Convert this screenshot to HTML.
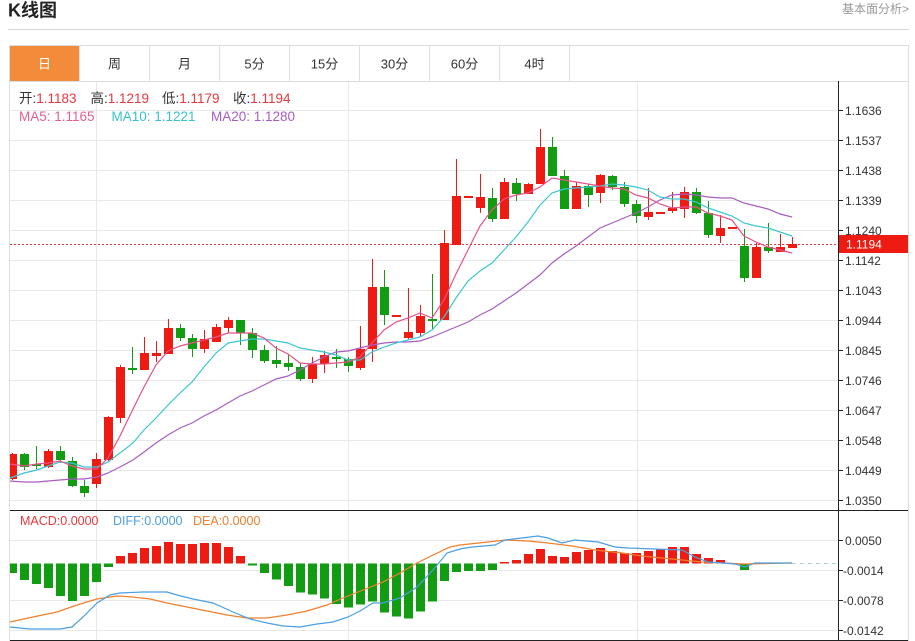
<!DOCTYPE html>
<html><head><meta charset="utf-8"><style>
html,body{margin:0;padding:0;background:#fff;}
body{width:915px;height:641px;overflow:hidden;font-family:"Liberation Sans","Noto Sans CJK SC",sans-serif;}
svg{display:block;}
</style></head><body>
<svg width="915" height="641" viewBox="0 0 915 641" xmlns="http://www.w3.org/2000/svg" font-family="Liberation Sans, Noto Sans CJK SC, sans-serif">
<rect width="915" height="641" fill="#fff"/>
<!-- header -->
<text x="8" y="16.5" font-size="18" font-weight="bold" fill="#222">K线图</text>
<text x="909" y="13" font-size="12" fill="#999" text-anchor="end">基本面分析&gt;</text>
<line x1="8" y1="29.5" x2="909" y2="29.5" stroke="#d4d4d4"/>
<!-- tabs -->
<rect x="9.5" y="45.5" width="899" height="36" fill="#fff" stroke="#dedede"/>
<rect x="10" y="46" width="69.5" height="35" fill="#f28b3a"/>
<g stroke="#dedede">
<line x1="79.5" y1="46" x2="79.5" y2="81"/><line x1="149.5" y1="46" x2="149.5" y2="81"/><line x1="219.5" y1="46" x2="219.5" y2="81"/><line x1="289.5" y1="46" x2="289.5" y2="81"/><line x1="359.5" y1="46" x2="359.5" y2="81"/><line x1="429.5" y1="46" x2="429.5" y2="81"/><line x1="499.5" y1="46" x2="499.5" y2="81"/><line x1="569.5" y1="46" x2="569.5" y2="81"/>
</g>
<g font-size="13" text-anchor="middle" fill="#333">
<text x="44.5" y="68.5" fill="#fff">日</text><text x="114.5" y="68.5">周</text><text x="184.5" y="68.5">月</text><text x="254.5" y="68.5">5分</text><text x="324.5" y="68.5">15分</text><text x="394.5" y="68.5">30分</text><text x="464.5" y="68.5">60分</text><text x="534.5" y="68.5">4时</text>
</g>
<!-- chart frame -->
<line x1="9.5" y1="81" x2="9.5" y2="641" stroke="#dedede"/>
<line x1="908.5" y1="81" x2="908.5" y2="641" stroke="#dedede"/>
<!-- grid -->
<g stroke="#e8e8e8" stroke-width="1">
<line x1="10" y1="110.5" x2="838" y2="110.5"/><line x1="10" y1="140.5" x2="838" y2="140.5"/><line x1="10" y1="170.5" x2="838" y2="170.5"/><line x1="10" y1="200.5" x2="838" y2="200.5"/><line x1="10" y1="230.5" x2="838" y2="230.5"/><line x1="10" y1="260.5" x2="838" y2="260.5"/><line x1="10" y1="290.5" x2="838" y2="290.5"/><line x1="10" y1="320.5" x2="838" y2="320.5"/><line x1="10" y1="350.5" x2="838" y2="350.5"/><line x1="10" y1="380.5" x2="838" y2="380.5"/><line x1="10" y1="410.5" x2="838" y2="410.5"/><line x1="10" y1="440.5" x2="838" y2="440.5"/><line x1="10" y1="470.5" x2="838" y2="470.5"/><line x1="10" y1="500.5" x2="838" y2="500.5"/>
<line x1="10" y1="540.5" x2="838" y2="540.5"/><line x1="10" y1="570.5" x2="838" y2="570.5"/><line x1="10" y1="600.5" x2="838" y2="600.5"/><line x1="10" y1="630.5" x2="838" y2="630.5"/>
<line x1="96.5" y1="82" x2="96.5" y2="640"/><line x1="348.5" y1="82" x2="348.5" y2="640"/><line x1="637.5" y1="82" x2="637.5" y2="640"/>
</g>
<!-- legend -->
<g font-size="13.5">
<text x="19" y="103"><tspan fill="#333">开:</tspan><tspan fill="#e8383d">1.1183</tspan></text>
<text x="90.5" y="103"><tspan fill="#333">高:</tspan><tspan fill="#e8383d">1.1219</tspan></text>
<text x="162" y="103"><tspan fill="#333">低:</tspan><tspan fill="#e8383d">1.1179</tspan></text>
<text x="233" y="103"><tspan fill="#333">收:</tspan><tspan fill="#e8383d">1.1194</tspan></text>
<text x="19" y="121" fill="#e65f8e">MA5: 1.1165</text>
<text x="111.5" y="121" fill="#36c3cf">MA10: 1.1221</text>
<text x="211" y="121" fill="#a85dc2">MA20: 1.1280</text>
</g>
<!-- current price dotted line -->
<line x1="10" y1="244.5" x2="838" y2="244.5" stroke="#e8383d" stroke-dasharray="2 2"/>
<!-- red candles -->
<g fill="#ee1b13">
<rect x="10" y="454" width="7" height="25"/><rect x="44" y="451" width="9" height="16"/><rect x="92" y="459" width="9" height="25"/><rect x="104" y="417" width="9" height="43"/><rect x="116" y="367" width="9" height="51"/><rect x="140" y="353" width="9" height="17"/><rect x="152" y="353" width="9" height="3"/><rect x="164" y="328" width="9" height="26"/><rect x="200" y="339" width="9" height="10"/><rect x="212" y="327" width="9" height="15"/><rect x="224" y="320" width="9" height="8"/><rect x="308" y="364" width="9" height="15"/><rect x="320" y="355" width="9" height="9"/><rect x="356" y="349" width="9" height="19"/><rect x="368" y="287" width="9" height="62"/><rect x="392" y="315" width="9" height="2"/><rect x="404" y="332" width="9" height="6"/><rect x="416" y="316" width="9" height="17"/><rect x="440" y="243" width="9" height="77"/><rect x="452" y="196" width="9" height="49"/><rect x="464" y="196" width="9" height="2"/><rect x="476" y="197" width="9" height="11"/><rect x="500" y="182" width="9" height="37"/><rect x="524" y="184" width="9" height="10"/><rect x="536" y="147" width="9" height="37"/><rect x="572" y="186" width="9" height="23"/><rect x="596" y="175" width="9" height="18"/><rect x="644" y="212" width="9" height="5"/><rect x="656" y="212" width="9" height="2"/><rect x="668" y="208" width="9" height="3"/><rect x="680" y="192" width="9" height="17"/><rect x="716" y="228" width="9" height="8"/><rect x="728" y="227" width="9" height="2"/><rect x="752" y="247" width="9" height="31"/><rect x="776" y="247" width="9" height="5"/><rect x="788" y="244" width="9" height="4"/>
</g>
<path fill="none" stroke="#ee1b13" stroke-width="1" d="M12.5 453V480M48.5 449V468M96.5 453V488M108.5 416V461M120.5 365V423M144.5 337V370M156.5 341V362M168.5 319V354M204.5 330V353M216.5 324V342M228.5 317V333M312.5 357V383M324.5 351V373M360.5 326V370M372.5 259V362M408.5 288V339M420.5 305V337M444.5 230V320M456.5 159V245M480.5 174V213M504.5 178V219M528.5 183V194M540.5 129V184M576.5 182V209M600.5 174V203M648.5 188V220M672.5 192V213M684.5 187V218M720.5 215V243M756.5 243V278M780.5 234V252M792.5 237V248"/>
<!-- green candles -->
<g fill="#129c12">
<rect x="20" y="454" width="9" height="13"/><rect x="32" y="464" width="9" height="2"/><rect x="56" y="451" width="9" height="9"/><rect x="68" y="461" width="9" height="25"/><rect x="80" y="486" width="9" height="7"/><rect x="128" y="368" width="9" height="2"/><rect x="176" y="328" width="9" height="10"/><rect x="188" y="338" width="9" height="11"/><rect x="236" y="320" width="9" height="13"/><rect x="248" y="333" width="9" height="17"/><rect x="260" y="350" width="9" height="11"/><rect x="272" y="360" width="9" height="4"/><rect x="284" y="363" width="9" height="4"/><rect x="296" y="367" width="9" height="12"/><rect x="332" y="357" width="9" height="2"/><rect x="344" y="359" width="9" height="7"/><rect x="380" y="287" width="9" height="28"/><rect x="428" y="319" width="9" height="2"/><rect x="488" y="198" width="9" height="21"/><rect x="512" y="183" width="9" height="11"/><rect x="548" y="147" width="9" height="29"/><rect x="560" y="176" width="9" height="33"/><rect x="584" y="186" width="9" height="9"/><rect x="608" y="176" width="9" height="11"/><rect x="620" y="187" width="9" height="17"/><rect x="632" y="204" width="9" height="12"/><rect x="692" y="192" width="9" height="21"/><rect x="704" y="213" width="9" height="22"/><rect x="740" y="246" width="9" height="32"/><rect x="764" y="247" width="9" height="4"/>
</g>
<path fill="none" stroke="#129c12" stroke-width="1" d="M24.5 453V470M36.5 446V469M60.5 446V463M72.5 457V487M84.5 480V497M132.5 347V374M180.5 324V341M192.5 334V357M240.5 320V345M252.5 328V358M264.5 345V363M276.5 346V368M288.5 355V371M300.5 363V381M336.5 349V368M348.5 357V372M384.5 270V325M432.5 274V330M492.5 188V222M516.5 178V201M552.5 137V176M564.5 170V209M588.5 184V207M612.5 175V190M624.5 182V207M636.5 200V223M696.5 188V214M708.5 201V238M744.5 229V282M768.5 223V253"/>
<!-- MA lines -->
<polyline fill="none" stroke="#a85dc2" stroke-width="1.2" points="10,481 24,482 37,482 48,481 60,480 72,479 84,479 97,477 108,473 120,467 133,460 144,452 156,443 168,435 180,428 192,423 204,416 216,410 228,403 240,396 252,391 264,385 276,379 288,376 300,370 312,363 324,357 336,352 348,351 360,348 372,345 384,343 396,342 408,342 420,341 432,337 444,332 456,327 468,322 480,315 492,309 504,301 516,293 528,284 540,275 552,263 564,254 576,246 588,237 600,228 612,223 624,218 636,213 648,207 660,200 672,195 684,194 696,195 708,197 720,198 732,198 744,203 756,206 768,209 780,214 792,217"/>
<polyline fill="none" stroke="#3cc6d4" stroke-width="1.2" points="10,478 24,473 37,470 48,466 60,462 72,463 84,467 97,467 108,462 120,453 133,443 144,430 156,418 168,405 180,393 192,382 204,367 216,353 228,343 240,341 252,339 264,339 276,341 288,343 300,348 312,350 324,352 336,355 348,360 360,360 372,352 384,347 396,343 408,340 420,337 432,330 444,317 456,298 468,281 480,271 492,263 504,250 516,237 528,222 540,205 552,193 564,189 576,188 588,187 600,186 612,184 624,185 636,187 648,190 660,197 672,199 684,199 696,202 708,208 720,212 732,216 744,223 756,226 768,228 780,232 792,236"/>
<polyline fill="none" stroke="#e6528a" stroke-width="1.2" points="10,464 24,466 37,464 48,463 60,461 72,466 84,469 97,469 108,458 120,436 133,409 144,387 156,365 168,351 180,346 192,343 204,340 216,337 228,333 240,333 252,333 264,338 276,348 288,354 300,363 312,364 324,364 336,363 348,362 360,357 372,343 384,330 396,322 408,318 420,313 432,318 444,300 456,274 468,250 480,226 492,210 504,199 516,195 528,193 540,187 552,178 564,180 576,182 588,184 600,186 612,188 624,189 636,195 648,198 660,204 672,208 684,207 696,207 708,213 720,216 732,220 744,236 756,242 768,247 780,250 792,253"/>
<!-- MACD panel -->
<text x="20" y="525" font-size="12.5" fill="#e8383d">MACD:0.0000</text>
<text x="113" y="525" font-size="12.5" fill="#4a9fe3">DIFF:0.0000</text>
<text x="193" y="525" font-size="12.5" fill="#f07f2e">DEA:0.0000</text>
<line x1="792" y1="563.5" x2="838" y2="563.5" stroke="#a9d2f2" stroke-dasharray="4 4"/>
<g fill="#129c12">
<rect x="10" y="563.5" width="7" height="9.5"/><rect x="20" y="563.5" width="9" height="16.5"/><rect x="32" y="563.5" width="9" height="20.5"/><rect x="44" y="563.5" width="9" height="24.5"/><rect x="56" y="563.5" width="9" height="32.5"/><rect x="68" y="563.5" width="9" height="37.5"/><rect x="80" y="563.5" width="9" height="32.5"/><rect x="92" y="563.5" width="9" height="18.5"/><rect x="104" y="563.5" width="9" height="3.5"/>
<rect x="248" y="563.5" width="9" height="2"/><rect x="260" y="563.5" width="9" height="9.5"/><rect x="272" y="563.5" width="9" height="16"/><rect x="284" y="563.5" width="9" height="22.5"/><rect x="296" y="563.5" width="9" height="29"/><rect x="308" y="563.5" width="9" height="31"/><rect x="320" y="563.5" width="9" height="35"/><rect x="332" y="563.5" width="9" height="40.5"/><rect x="344" y="563.5" width="9" height="44"/><rect x="356" y="563.5" width="9" height="41"/><rect x="368" y="563.5" width="9" height="38"/><rect x="380" y="563.5" width="9" height="49"/><rect x="392" y="563.5" width="9" height="53"/><rect x="404" y="563.5" width="9" height="55"/><rect x="416" y="563.5" width="9" height="48"/><rect x="428" y="563.5" width="9" height="38"/><rect x="440" y="563.5" width="9" height="17.5"/><rect x="452" y="563.5" width="9" height="8.5"/><rect x="464" y="563.5" width="9" height="7.5"/><rect x="476" y="563.5" width="9" height="7.5"/><rect x="488" y="563.5" width="9" height="6.5"/>
<rect x="740" y="563.5" width="9" height="6.5"/><rect x="728" y="563" width="9" height="1"/>
</g>
<g fill="#ee1b13">
<rect x="116" y="556" width="9" height="7.5"/><rect x="128" y="553" width="9" height="10.5"/><rect x="140" y="548" width="9" height="15.5"/><rect x="152" y="546" width="9" height="17.5"/><rect x="164" y="542" width="9" height="21.5"/><rect x="176" y="544" width="9" height="19.5"/><rect x="188" y="544" width="9" height="19.5"/><rect x="200" y="543" width="9" height="20.5"/><rect x="212" y="543" width="9" height="20.5"/><rect x="224" y="547" width="9" height="16.5"/><rect x="236" y="556" width="9" height="7.5"/>
<rect x="500" y="562" width="9" height="1.5"/><rect x="512" y="560" width="9" height="3.5"/><rect x="524" y="554" width="9" height="9.5"/><rect x="536" y="549" width="9" height="14.5"/><rect x="548" y="556" width="9" height="7.5"/><rect x="560" y="557" width="9" height="6.5"/><rect x="572" y="552" width="9" height="11.5"/><rect x="584" y="550" width="9" height="13.5"/><rect x="596" y="548" width="9" height="15.5"/><rect x="608" y="551" width="9" height="12.5"/><rect x="620" y="553" width="9" height="10.5"/><rect x="632" y="553" width="9" height="10.5"/><rect x="644" y="551" width="9" height="12.5"/><rect x="656" y="549" width="9" height="14.5"/><rect x="668" y="547" width="9" height="16.5"/><rect x="680" y="547" width="9" height="16.5"/><rect x="692" y="554" width="9" height="9.5"/><rect x="704" y="558" width="9" height="5.5"/><rect x="716" y="560" width="9" height="3.5"/>
</g>
<polyline fill="none" stroke="#f07f2e" stroke-width="1.2" points="10,622 33,617 57,612 77,605 97,599 117,596 133,597 150,599 167,603 187,607 207,611 227,615 247,618 267,618 287,615 307,611 327,605 343,598 363,590 383,582 400,573 417,563 433,555 450,547 460,545 488,542 505,540 528,541 548,543 572,546 595,550 622,553 642,556 662,558 682,560 702,562 722,563 745,564 792,563"/>
<polyline fill="none" stroke="#4a9fe3" stroke-width="1.2" points="10,627 20,628 30,629 47,629 60,629 72,627 83,617 97,603 110,595 120,593 143,592 167,592 177,595 193,599 213,603 233,612 250,619 267,623 283,626 300,627 317,624 333,622 348,617 360,611 373,603 383,603 400,598 417,587 433,570 447,553 460,549 472,547 495,545 505,540 522,538 538,536 548,538 562,543 575,540 598,542 615,547 628,548 655,549 682,550 695,557 708,562 722,563 735,564 745,567 755,563 792,563"/>
<!-- axes -->
<line x1="10" y1="510.5" x2="908" y2="510.5" stroke="#222"/>
<line x1="10" y1="640.5" x2="908" y2="640.5" stroke="#222"/>
<line x1="838.5" y1="81" x2="838.5" y2="641" stroke="#222"/>
<g stroke="#222">
<line x1="838" y1="110.5" x2="843" y2="110.5"/><line x1="838" y1="140.5" x2="843" y2="140.5"/><line x1="838" y1="170.5" x2="843" y2="170.5"/><line x1="838" y1="200.5" x2="843" y2="200.5"/><line x1="838" y1="230.5" x2="843" y2="230.5"/><line x1="838" y1="260.5" x2="843" y2="260.5"/><line x1="838" y1="290.5" x2="843" y2="290.5"/><line x1="838" y1="320.5" x2="843" y2="320.5"/><line x1="838" y1="350.5" x2="843" y2="350.5"/><line x1="838" y1="380.5" x2="843" y2="380.5"/><line x1="838" y1="410.5" x2="843" y2="410.5"/><line x1="838" y1="440.5" x2="843" y2="440.5"/><line x1="838" y1="470.5" x2="843" y2="470.5"/><line x1="838" y1="500.5" x2="843" y2="500.5"/>
<line x1="838" y1="540.5" x2="843" y2="540.5"/><line x1="838" y1="570.5" x2="843" y2="570.5"/><line x1="838" y1="600.5" x2="843" y2="600.5"/><line x1="838" y1="630.5" x2="843" y2="630.5"/>
</g>
<g font-size="12" fill="#333">
<text x="845" y="115">1.1636</text><text x="845" y="145">1.1537</text><text x="845" y="175">1.1438</text><text x="845" y="205">1.1339</text><text x="845" y="235">1.1240</text><text x="845" y="265">1.1142</text><text x="845" y="295">1.1043</text><text x="845" y="325">1.0944</text><text x="845" y="355">1.0845</text><text x="845" y="385">1.0746</text><text x="845" y="415">1.0647</text><text x="845" y="445">1.0548</text><text x="845" y="475">1.0449</text><text x="845" y="505">1.0350</text>
<text x="845" y="545">0.0050</text><text x="843" y="575">-0.0014</text><text x="843" y="605">-0.0078</text><text x="843" y="635">-0.0142</text>
</g>
<rect x="839" y="235" width="69" height="18" fill="#ee1b13"/>
<text x="846" y="248.5" font-size="12" fill="#fff">1.1194</text>
</svg>
</body></html>
